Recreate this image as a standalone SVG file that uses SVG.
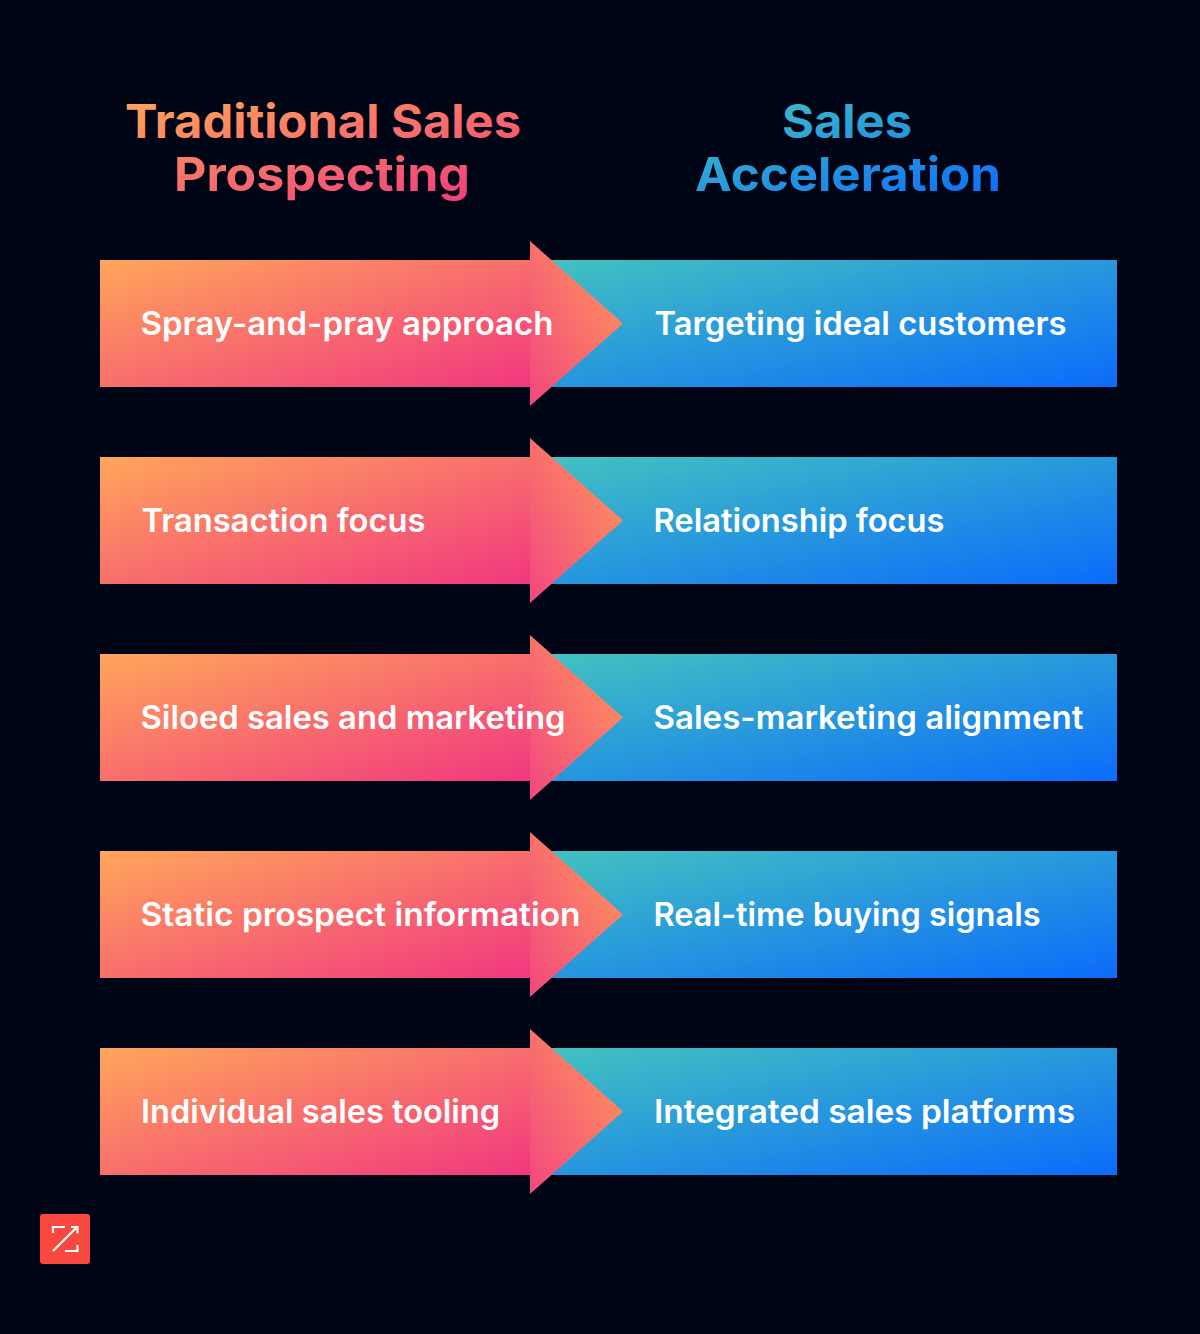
<svg xmlns="http://www.w3.org/2000/svg" width="1200" height="1334" viewBox="0 0 1200 1334">
<style>
.t{font-family:"Inter","Liberation Sans",sans-serif;font-size:32px;font-weight:600;fill:#fff}
.h{font-family:"Inter","Liberation Sans",sans-serif;font-size:47px;font-weight:700}
</style>
<defs>
<linearGradient id="warm" x1="0" y1="0" x2="1" y2="1"><stop offset="0" stop-color="#FFA65A"/><stop offset="1" stop-color="#F1377F"/></linearGradient>
<linearGradient id="cool" x1="0" y1="0" x2="1" y2="1"><stop offset="0" stop-color="#43C4BF"/><stop offset="1" stop-color="#0C6BFB"/></linearGradient>
<linearGradient id="tip" x1="0" y1="1" x2="1" y2="0"><stop offset="0" stop-color="#F2477F"/><stop offset="1" stop-color="#FF9A58"/></linearGradient>
<linearGradient id="hw" gradientUnits="userSpaceOnUse" x1="126" y1="100" x2="174" y2="288"><stop offset="0" stop-color="#FFA65A"/><stop offset="1" stop-color="#F1377F"/></linearGradient>
<linearGradient id="hc" gradientUnits="userSpaceOnUse" x1="696" y1="100" x2="755" y2="280"><stop offset="0" stop-color="#43C4BF"/><stop offset="1" stop-color="#0C6BFB"/></linearGradient>
<g id="arrow">
<rect x="530" y="0" width="587" height="127" fill="url(#cool)"/>
<rect x="100" y="0" width="430" height="127" fill="url(#warm)"/>
<path d="M530-19L623 63.500L530 146Z" fill="url(#tip)"/>
</g>
</defs>
<rect width="1200" height="1334" fill="#000515"/>
<g id="header-left"><text class="h" fill="url(#hw)" text-anchor="middle" x="323" y="138" textLength="396" lengthAdjust="spacingAndGlyphs">Traditional Sales</text><text class="h" fill="url(#hw)" text-anchor="middle" x="322" y="191" textLength="296" lengthAdjust="spacingAndGlyphs">Prospecting</text></g>
<g id="header-right"><text class="h" fill="url(#hc)" text-anchor="middle" x="847" y="138" textLength="130" lengthAdjust="spacingAndGlyphs">Sales</text><text class="h" fill="url(#hc)" text-anchor="middle" x="848" y="191" textLength="306" lengthAdjust="spacingAndGlyphs">Acceleration</text></g>
<g id="row-1"><use href="#arrow" y="260"/><text class="t" x="140.500" y="335" textLength="413" lengthAdjust="spacingAndGlyphs">Spray-and-pray approach</text><text class="t" x="654.500" y="335" textLength="412" lengthAdjust="spacingAndGlyphs">Targeting ideal customers</text></g>
<g id="row-2"><use href="#arrow" y="457"/><text class="t" x="141.500" y="532" textLength="284" lengthAdjust="spacingAndGlyphs">Transaction focus</text><text class="t" x="653.500" y="532" textLength="291" lengthAdjust="spacingAndGlyphs">Relationship focus</text></g>
<g id="row-3"><use href="#arrow" y="654"/><text class="t" x="140.500" y="729" textLength="425" lengthAdjust="spacingAndGlyphs">Siloed sales and marketing</text><text class="t" x="653.500" y="729" textLength="430" lengthAdjust="spacingAndGlyphs">Sales-marketing alignment</text></g>
<g id="row-4"><use href="#arrow" y="851"/><text class="t" x="140.500" y="926" textLength="440" lengthAdjust="spacingAndGlyphs">Static prospect information</text><text class="t" x="653.500" y="926" textLength="387" lengthAdjust="spacingAndGlyphs">Real-time buying signals</text></g>
<g id="row-5"><use href="#arrow" y="1048"/><text class="t" x="141" y="1123" textLength="359" lengthAdjust="spacingAndGlyphs">Individual sales tooling</text><text class="t" x="654" y="1123" textLength="421" lengthAdjust="spacingAndGlyphs">Integrated sales platforms</text></g>
<g id="logo"><rect x="40" y="1214" width="50" height="50" rx="3" fill="#F9483F"/><path d="M53 1233V1227H65M77.500 1245V1251H65M53 1251L77 1227M71 1227H77.500V1233.500" fill="none" stroke="#fff" stroke-width="2.200"/></g>
</svg>
